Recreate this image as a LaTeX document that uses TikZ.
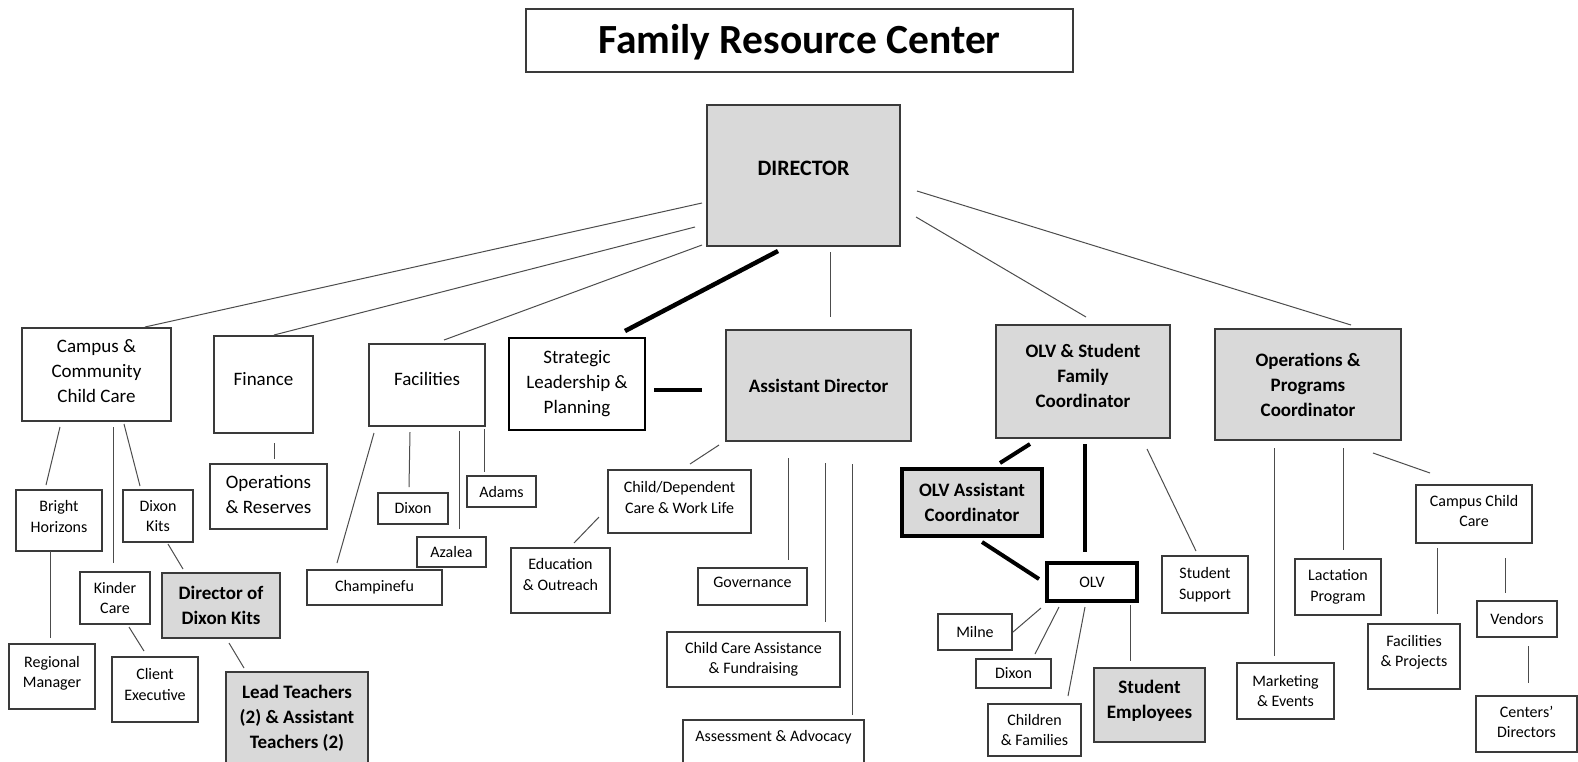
\documentclass[tikz,border=0pt]{standalone}
\usepackage{fontspec}
\setmainfont{Carlito}
\definecolor{fillgray}{HTML}{D9D9D9}
\definecolor{edge}{HTML}{3A3A3A}
% invisible depth under the last line, lifts the text a little
\newcommand{\lowpad}[1]{\rule[-#1pt]{0pt}{0pt}}
\tikzset{
	wh/.style 2 args={minimum width=#1pt, minimum height=#2pt},
	orgbox/.style={draw=edge, line width=1.1pt, inner sep=2pt, outer sep=0pt, anchor=north west, align=center, font=\fontsize{19}{25}\selectfont},
	subbox/.style={orgbox, font=\fontsize{16}{20.5}\selectfont},
	keybox/.style={orgbox, fill=fillgray, font=\fontsize{19}{25}\selectfont\bfseries},
	link/.style={draw=black!70, line width=1pt},
	boldlink/.style={draw=black, line width=4.5pt},
}

\begin{document}
\begin{tikzpicture}[x=1pt,y=-1pt]
		\useasboundingbox (0,0) rectangle (1578,761);
		% top
		\node[orgbox, wh={547}{63}, font=\fontsize{41.5}{48}\selectfont\bfseries, text depth=3pt] (title) at (526,9) {Family Resource Center};
		\node[keybox, wh={193}{141}, font=\fontsize{22}{26}\selectfont\bfseries, text depth=15pt] (dir) at (707,105) {DIRECTOR};
		% second row
		\node[orgbox, wh={149}{93}] (camp) at (22,328) {Campus \&\\Community\\Child Care\lowpad{6}};
		\node[orgbox, wh={99}{97}, text depth=12pt] (fin) at (214,336) {Finance};
		\node[orgbox, wh={116}{82}, text depth=12pt] (fac) at (369,344) {Facilities};
		\node[orgbox, wh={136}{92}, draw=black, line width=2.5pt] (strat) at (509,338) {Strategic\\Leadership \&\\Planning};
		\node[keybox, wh={185}{111}] (asst) at (726,330) {Assistant Director};
		\node[keybox, wh={174}{113}] (olvsf) at (996,325) {OLV \& Student\\Family\\Coordinator\lowpad{12}};
		\node[keybox, wh={186}{111}] (opc) at (1215,329) {Operations \&\\Programs\\Coordinator};
		% campus & community child care
		\node[subbox, wh={86}{61}] (bright) at (16,490) {Bright\\Horizons\lowpad{8}};
		\node[subbox, wh={70}{52}] (dkits) at (123,490) {Dixon\\Kits};
		\node[subbox, wh={70}{52}] (kinder) at (80,572) {Kinder\\Care};
		\node[keybox, wh={118}{65}] (dirdk) at (162,573) {Director of\\Dixon Kits};
		\node[subbox, wh={86}{65}] (regman) at (9,644) {Regional\\Manager\lowpad{9}};
		\node[subbox, wh={86}{65}] (client) at (112,657) {Client\\Executive\lowpad{10}};
		\node[keybox, wh={142}{93}] (teach) at (226,672) {Lead Teachers\\(2) \& Assistant\\Teachers (2)};
		% finance, facilities
		\node[orgbox, wh={117}{65}] (opres) at (210,464) {Operations\\\& Reserves\lowpad{4}};
		\node[subbox, wh={70}{31}] (fdixon) at (378,493) {Dixon};
		\node[subbox, wh={69}{31}] (adams) at (467,476) {Adams};
		\node[subbox, wh={69}{30}] (azalea) at (417,537) {Azalea};
		\node[subbox, wh={135}{35}] (champ) at (307,570) {Champinefu};
		% assistant director
		\node[subbox, wh={143}{63}] (childdep) at (608,470) {Child/Dependent\\Care \& Work Life\lowpad{8}};
		\node[subbox, wh={99}{65}] (edu) at (511,548) {Education\\\& Outreach\lowpad{12}};
		\node[subbox, wh={109}{37}, text depth=8pt] (gov) at (698,568) {Governance};
		\node[subbox, wh={173}{55}] (ccafund) at (667,632) {Child Care Assistance\\\& Fundraising};
		\node[subbox, wh={181}{60}, text depth=29pt] (assess) at (683,720) {Assessment \& Advocacy};
		% olv & student family coordinator
		\node[keybox, wh={140}{67}, draw=black, line width=3.5pt] (olvac) at (902,469) {OLV Assistant\\Coordinator};
		\node[subbox, wh={90}{38}, draw=black, line width=3.5pt] (olv) at (1047,563) {OLV};
		\node[subbox, wh={86}{57}] (stsup) at (1162,556) {Student\\Support};
		\node[subbox, wh={74}{36}] (milne) at (938,614) {Milne};
		\node[subbox, wh={75}{29}] (odixon) at (976,659) {Dixon};
		\node[subbox, wh={93}{52}] (childfam) at (988,704) {Children\\\& Families};
		\node[keybox, wh={111}{74}] (stemp) at (1094,668) {Student\\Employees\lowpad{12}};
		% operations & programs coordinator
		\node[subbox, wh={97}{56}] (market) at (1237,663) {Marketing\\\& Events};
		\node[subbox, wh={86}{56}] (lact) at (1295,559) {Lactation\\Program};
		\node[subbox, wh={116}{58}] (ccc) at (1416,485) {Campus Child\\Care\lowpad{6}};
		\node[subbox, wh={92}{65}] (facproj) at (1368,624) {Facilities\\\& Projects\lowpad{11}};
		\node[subbox, wh={80}{36}] (vendors) at (1477,601) {Vendors};
		\node[subbox, wh={101}{56}] (centers) at (1476,696) {Centers’\\Directors\lowpad{4}};

		% director links
		\draw[link] ([shift={(-5,98)}]dir.north west) -- ([shift={(123,-1)}]camp.north west);
		\draw[link] ([shift={(-12,122)}]dir.north west) -- ([shift={(60,-1)}]fin.north west);
		\draw[link] ([shift={(-5,140)}]dir.north west) -- ([shift={(75,-4)}]fac.north west);
		\draw[boldlink] ([shift={(71,146)}]dir.north west) -- ([shift={(116,-7)}]strat.north west);
		\draw[link] ([shift={(123,147)}]dir.north west) -- ([shift={(104,-13)}]asst.north west);
		\draw[link] ([shift={(209,112)}]dir.north west) -- ([shift={(90,-8)}]olvsf.north west);
		\draw[link] ([shift={(210,86)}]dir.north west) -- ([shift={(136,-4)}]opc.north west);
		\draw[boldlink, line width=4pt] ([shift={(145,52)}]strat.north west) -- ([shift={(-24,60)}]asst.north west);
		% campus & community child care links
		\draw[link] ([shift={(38,99)}]camp.north west) -- ([shift={(30,-5)}]bright.north west);
		\draw[link] ([shift={(91,99)}]camp.north west) -- ([shift={(33,-9)}]kinder.north west);
		\draw[link] ([shift={(102,96)}]camp.north west) -- ([shift={(17,-4)}]dkits.north west);
		\draw[link] ([shift={(34,61)}]bright.north west) -- ([shift={(41,-6)}]regman.north west);
		\draw[link] ([shift={(45,54)}]dkits.north west) -- ([shift={(21,-4)}]dirdk.north west);
		\draw[link] ([shift={(49,55)}]kinder.north west) -- ([shift={(32,-6)}]client.north west);
		\draw[link] ([shift={(67,70)}]dirdk.north west) -- ([shift={(18,-4)}]teach.north west);
		% finance & facilities links
		\draw[link] ([shift={(60,107)}]fin.north west) -- ([shift={(64,-5)}]opres.north west);
		\draw[link] ([shift={(5,89)}]fac.north west) -- ([shift={(30,-7)}]champ.north west);
		\draw[link] ([shift={(41,88)}]fac.north west) -- ([shift={(31,-6)}]fdixon.north west);
		\draw[link] ([shift={(90,87)}]fac.north west) -- ([shift={(42,-8)}]azalea.north west);
		\draw[link] ([shift={(115,85)}]fac.north west) -- ([shift={(17,-4)}]adams.north west);
		% assistant director links
		\draw[link] ([shift={(-7,115)}]asst.north west) -- ([shift={(82,-6)}]childdep.north west);
		\draw[link] ([shift={(-9,47)}]childdep.north west) -- ([shift={(63,-5)}]edu.north west);
		\draw[link] ([shift={(62,128)}]asst.north west) -- ([shift={(90,-8)}]gov.north west);
		\draw[link] ([shift={(99,133)}]asst.north west) -- ([shift={(158,-10)}]ccafund.north west);
		\draw[link] ([shift={(126,134)}]asst.north west) -- ([shift={(169,-5)}]assess.north west);
		% olv links
		\draw[boldlink, line width=4pt] ([shift={(34,119)}]olvsf.north west) -- ([shift={(98,-6)}]olvac.north west);
		\draw[boldlink, line width=4pt] ([shift={(89,119)}]olvsf.north west) -- ([shift={(38,-11)}]olv.north west);
		\draw[boldlink, line width=4pt] ([shift={(80,73)}]olvac.north west) -- ([shift={(-8,16)}]olv.north west);
		\draw[link] ([shift={(151,124)}]olvsf.north west) -- ([shift={(34,-5)}]stsup.north west);
		\draw[link] ([shift={(-6,45)}]olv.north west) -- ([shift={(75,18)}]milne.north west);
		\draw[link] ([shift={(12,44)}]olv.north west) -- ([shift={(59,-5)}]odixon.north west);
		\draw[link] ([shift={(38,44)}]olv.north west) -- ([shift={(80,-8)}]childfam.north west);
		\draw[link] ([shift={(83,42)}]olv.north west) -- ([shift={(36,-7)}]stemp.north west);
		% operations & programs links
		\draw[link] ([shift={(59,119)}]opc.north west) -- ([shift={(37,-7)}]market.north west);
		\draw[link] ([shift={(128,119)}]opc.north west) -- ([shift={(48,-9)}]lact.north west);
		\draw[link] ([shift={(158,124)}]opc.north west) -- ([shift={(14,-12)}]ccc.north west);
		\draw[link] ([shift={(21,63)}]ccc.north west) -- ([shift={(69,-10)}]facproj.north west);
		\draw[link] ([shift={(89,73)}]ccc.north west) -- ([shift={(28,-8)}]vendors.north west);
		\draw[link] ([shift={(51,45)}]vendors.north west) -- ([shift={(52,-13)}]centers.north west);
\end{tikzpicture}
\end{document}
